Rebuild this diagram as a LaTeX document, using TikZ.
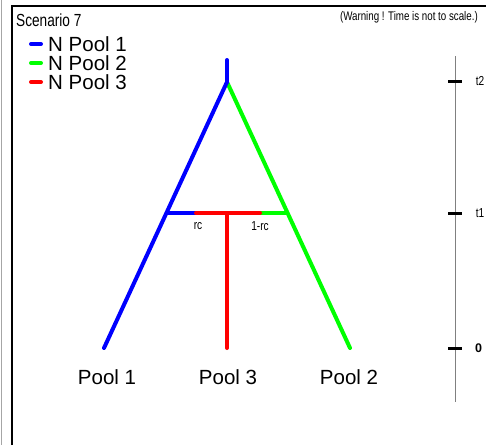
\documentclass[tikz,border=0pt]{standalone}
\usepackage{fontspec}
\setmainfont{Liberation Sans}
\newfontfamily\narrowfont[FakeStretch=0.78]{Liberation Sans}
\definecolor{poolblue}{RGB}{0,0,255}
\definecolor{poolgreen}{RGB}{0,255,0}
\definecolor{poolred}{RGB}{255,0,0}
\begin{document}
\begin{tikzpicture}[x=1pt,y=-1pt,
  branch/.style={line width=4pt,line cap=round},
  legline/.style={line width=4pt,line cap=round},
  bigtext/.style={font=\fontsize{20.5}{20.5}\selectfont,inner sep=0pt},
  legtext/.style={font=\fontsize{20.5}{20.5}\selectfont,inner sep=0pt,anchor=west},
  smalltext/.style={font=\narrowfont\fontsize{13}{13}\selectfont,inner sep=0pt},
  tick/.style={line width=3pt},
  axisline/.style={draw=gray,line width=1pt}]
\useasboundingbox (0,0) rectangle (486,445);
\fill[white] (0,0) rectangle (486,445);
% frame
\draw[gray!70,line width=1pt] (1.5,0) -- (1.5,445);
\draw[black,line width=2pt] (11.5,445) -- (11.5,6) -- (486,6);
% title and legend
\node[font=\narrowfont\fontsize{17.5}{17.5}\selectfont,inner sep=0pt,anchor=west] (title) at (16,20) {Scenario 7};
\node[font=\narrowfont\fontsize{12.5}{12.5}\selectfont,inner sep=0pt,anchor=east] (warn) at (478,17) {(Warning ! Time is not to scale.)};
\coordinate (l1a) at (31,44); \coordinate (l1b) at (41,44);
\coordinate (l2a) at (31,63); \coordinate (l2b) at (41,63);
\coordinate (l3a) at (31,82); \coordinate (l3b) at (41,82);
\draw[legline,poolblue] (l1a) -- (l1b);
\draw[legline,poolgreen] (l2a) -- (l2b);
\draw[legline,poolred] (l3a) -- (l3b);
\node[legtext] (leg1) at (48,44) {N Pool 1};
\node[legtext] (leg2) at (48,63) {N Pool 2};
\node[legtext] (leg3) at (48,82) {N Pool 3};
% tree
\coordinate (top) at (227,60);
\coordinate (apex) at (227,82);
\coordinate (p1) at (104,348);
\coordinate (p2) at (350,348);
\coordinate (p3) at (227,348);
\coordinate (hl) at (166.4,213);
\coordinate (hr) at (287.6,213);
\coordinate (mid) at (227,213);
\coordinate (rl) at (196,213);
\coordinate (rr) at (260,213);
\draw[branch,poolgreen] (apex) -- (p2);
\draw[branch,poolgreen,line cap=butt] (rr) -- (hr);
\draw[branch,poolblue] (top) -- (apex);
\draw[branch,poolblue] (apex) -- (p1);
\draw[branch,poolblue,line cap=butt] (hl) -- (rl);
\draw[branch,poolred] (rl) -- (rr);
\draw[branch,poolred] (mid) -- (p3);
\node[smalltext] (rc) at (198,226) {rc};
\node[smalltext] (onerc) at (260,226) {1-rc};
\node[bigtext] (pool1) at (107,377) {Pool 1};
\node[bigtext] (pool3) at (228,377) {Pool 3};
\node[bigtext] (pool2) at (349,377) {Pool 2};
% time axis
\coordinate (axtop) at (455,56);
\coordinate (axbot) at (455,402);
\draw[axisline] (axtop) -- (axbot);
\coordinate (t2a) at (448,81); \coordinate (t2b) at (462,81);
\coordinate (t1a) at (448,213); \coordinate (t1b) at (462,213);
\coordinate (t0a) at (448,348); \coordinate (t0b) at (462,348);
\draw[tick] (t2a) -- (t2b);
\draw[tick] (t1a) -- (t1b);
\draw[tick] (t0a) -- (t0b);
\node[smalltext] (t2) at (480,81) {t2};
\node[smalltext] (t1) at (480,213) {t1};
\node[smalltext,font=\bfseries\fontsize{12.5}{12.5}\selectfont] (t0) at (478.5,348) {0};
\end{tikzpicture}
\end{document}
